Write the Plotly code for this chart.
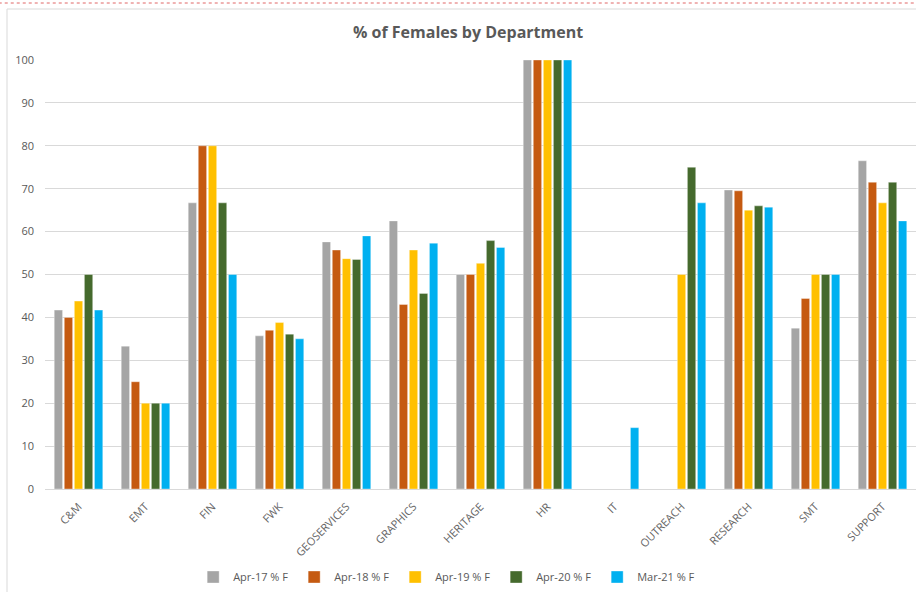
import plotly.graph_objects as go

categories = ["C&M", "EMT", "FIN", "FWK", "GEOSERVICES", "GRAPHICS", "HERITAGE",
              "HR", "IT", "OUTREACH", "RESEARCH", "SMT", "SUPPORT"]
series_names = ["Apr-17 % F", "Apr-18 % F", "Apr-19 % F", "Apr-20 % F", "Mar-21 % F"]
apr17 = [41.7, 33.3, 66.7, 35.7, 57.6, 62.5, 50.0, 100, None, None, 69.7, 37.5, 76.5]
apr18 = [40.0, 25.0, 80.0, 37.0, 55.7, 43.0, 50.0, 100, None, None, 69.5, 44.4, 71.5]
apr19 = [43.8, 20.0, 80.0, 38.8, 53.7, 55.7, 52.6, 100, None, 50.0, 65.0, 50.0, 66.7]
apr20 = [50.0, 20.0, 66.7, 36.1, 53.5, 45.6, 57.9, 100, None, 75.0, 66.0, 50.0, 71.5]
mar21 = [41.7, 20.0, 50.0, 35.0, 59.0, 57.3, 56.3, 100, 14.3, 66.7, 65.7, 50.0, 62.5]
colors = ["#A5A5A5", "#C55A11", "#FFC000", "#456A2D", "#00B0F0"]
y_ticks = [0, 10, 20, 30, 40, 50, 60, 70, 80, 90, 100]

fig = go.Figure()
for name, vals, col in zip(series_names, [apr17, apr18, apr19, apr20, mar21], colors):
    fig.add_trace(go.Bar(x=categories, y=vals, name=name,
                         marker=dict(color=col, line=dict(width=0.6, color="rgba(255,255,255,0.6)"))))

fig.update_layout(
    width=916, height=592,
    margin=dict(l=45, r=0, t=60, b=103),
    paper_bgcolor="white", plot_bgcolor="white",
    barmode="group", bargap=0.25, bargroupgap=0.17,
    title=dict(text="<b>% of Females by Department</b>", x=0.511, xanchor="center",
               y=1 - 32 / 592, yanchor="middle",
               font=dict(family="Open Sans", size=16, color="#595959")),
    font=dict(family="Open Sans", size=11, color="#595959"),
    xaxis=dict(tickangle=-45, showgrid=False, showline=True, linecolor="#D9D9D9",
               linewidth=1, ticks="", ticklabelstandoff=6,
               tickfont=dict(size=11, color="#666666"),
               automargin=False),
    yaxis=dict(range=[0, 100], tickvals=y_ticks, showgrid=True, gridcolor="#D9D9D9",
               gridwidth=1, zeroline=False, showline=False, ticks="",
               ticklabelstandoff=10, tickfont=dict(size=11, color="#595959"),
               automargin=False),
    legend=dict(orientation="h", x=0.46, xanchor="center", y=-(577 - 489) / 429,
                yanchor="middle", font=dict(size=11, color="#595959"),
                itemwidth=30, entrywidth=56, traceorder="normal"),
    showlegend=True,
)

# chart frame and screenshot dashed line
fig.add_shape(type="rect", xref="paper", yref="paper",
              x0=(7 - 45) / 871, x1=1.05, y0=-0.3, y1=(489 - 9) / 429,
              line=dict(color="#D9D9D9", width=1), layer="below")
fig.add_shape(type="line", xref="paper", yref="paper",
              x0=-0.06, x1=1.05, y0=(489 - 3) / 429, y1=(489 - 3) / 429,
              line=dict(color="#E06666", width=1, dash="dot"))

fig.write_html("out.html")
